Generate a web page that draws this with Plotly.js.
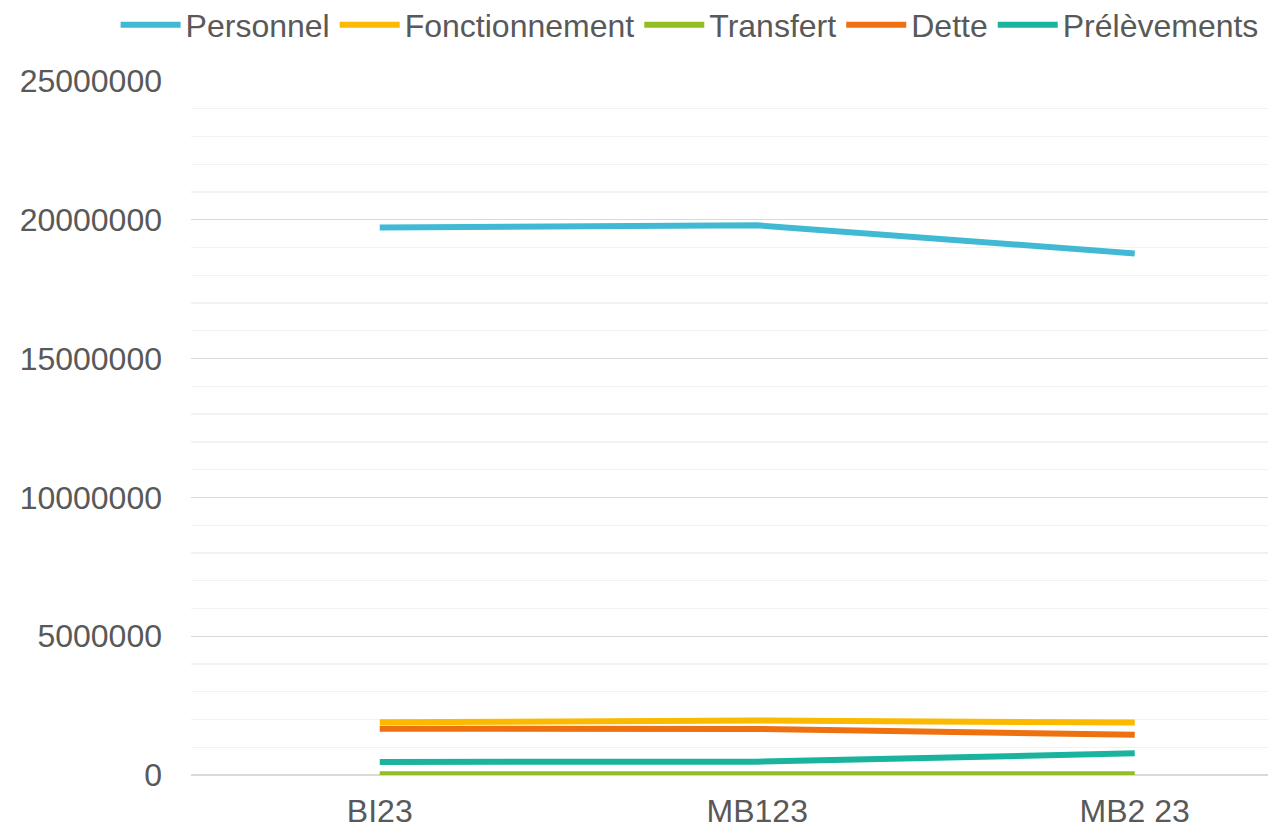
<!DOCTYPE html>
<html>
<head>
<meta charset="utf-8">
<script src="https://cdn.plot.ly/plotly-3.0.1.min.js"></script>
<style>html,body{margin:0;padding:0;background:#fff;}#chart{width:1268px;height:830px;}</style>
</head>
<body>
<div id="chart"></div>
<script>
const categories = ["BI23", "MB123", "MB2 23"];
const personnel = [19720000, 19800000, 18790000];
const fonctionnement = [1900000, 1960000, 1890000];
const transfert = [30000, 30000, 30000];
const dette = [1670000, 1660000, 1450000];
const prelevements = [470000, 480000, 780000];

const seriesNames = ["Personnel", "Fonctionnement", "Transfert", "Dette", "Prélèvements"];
const seriesValues = [personnel, fonctionnement, transfert, dette, prelevements];
const seriesColors = ["#41b9d4", "#fbb900", "#93be22", "#ee700e", "#1ab39e"];

const traces = seriesNames.map((name, i) => ({
  type: "scatter",
  mode: "lines",
  name: name,
  x: categories,
  y: seriesValues[i],
  line: {color: seriesColors[i], width: 6}
}));

const layout = {
  width: 1268,
  height: 830,
  paper_bgcolor: "#ffffff",
  plot_bgcolor: "#ffffff",
  font: {family: "Liberation Sans, Arial, sans-serif", size: 32, color: "#595959"},
  margin: {l: 191, r: 0, t: 81, b: 55, autoexpand: false},
  showlegend: true,
  legend: {
    orientation: "h",
    x: -0.07, xanchor: "left",
    y: 1.0807, yanchor: "middle",
    font: {size: 32, color: "#595959"},
    itemwidth: 60,
    traceorder: "normal",
    bgcolor: "rgba(0,0,0,0)"
  },
  xaxis: {
    type: "category",
    range: [-0.5, 2.353],
    showgrid: false,
    zeroline: false,
    showline: false,
    ticks: "",
    ticklabelstandoff: 14,
    tickfont: {size: 32, color: "#595959"},
    fixedrange: true
  },
  yaxis: {
    range: [0, 25000000],
    dtick: 5000000,
    tick0: 0,
    tickformat: "d",
    showgrid: true,
    gridcolor: "#d9d9d9",
    gridwidth: 1.3,
    zeroline: true,
    zerolinecolor: "#d9d9d9",
    zerolinewidth: 1.5,
    showline: false,
    ticks: "",
    ticklabelstandoff: 28,
    tickfont: {size: 32, color: "#595959"},
    minor: {dtick: 1000000, showgrid: true, gridcolor: "#f2f2f2", gridwidth: 1.3},
    fixedrange: true
  }
};

Plotly.newPlot("chart", traces, layout, {displayModeBar: false, staticPlot: true});
</script>
</body>
</html>
